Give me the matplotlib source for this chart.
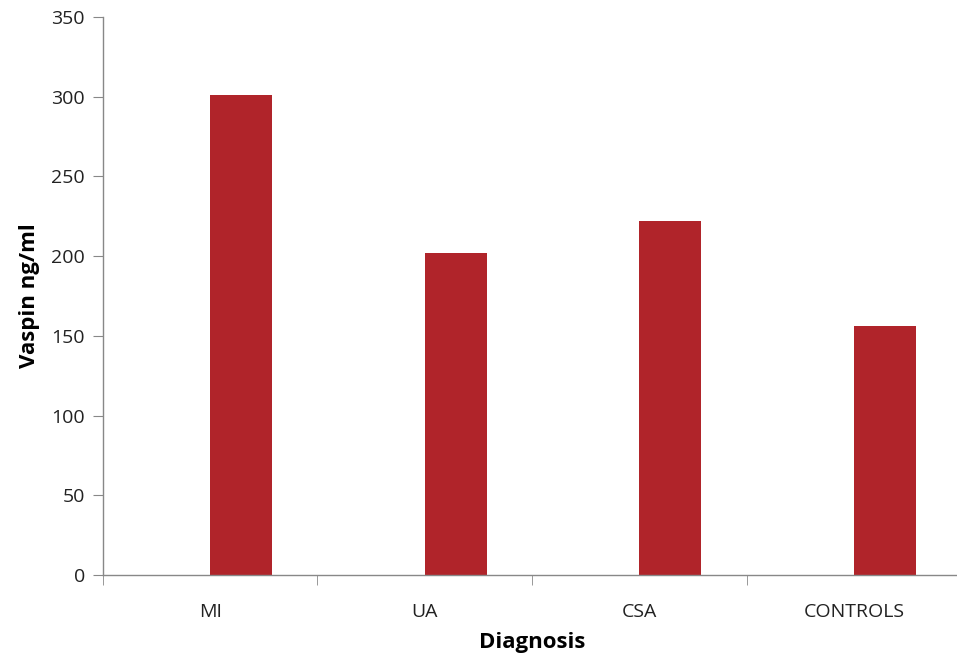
import numpy as np
import matplotlib.pyplot as plt

categories = ["MI", "UA", "CSA", "CONTROLS"]
vaspin = [301, 202, 222, 156]

plt.rcParams['font.family'] = ['Open Sans', 'DejaVu Sans']

fig = plt.figure(figsize=(9.57, 6.55), dpi=100)
ax = fig.add_axes([0.1076, 0.1221, 0.8966, 0.8519])

x = np.arange(len(categories))
# bars sit just right of the category centre (empty first series in the original)
ax.bar(x, vaspin, width=0.29, align='edge', color='#B0242A')

ax.set_xlim(-0.5, len(categories) - 0.5)
ax.set_ylim(0, 350)
ax.set_yticks(np.arange(0, 351, 50))
ax.set_xticks(x)
ax.set_xticklabels(categories)
ax.set_xticks(np.arange(-0.5, len(categories)), minor=True)

ax.tick_params(axis='x', which='major', length=0, pad=20, labelsize=14, labelcolor='#222222')
ax.tick_params(axis='x', which='minor', length=7, color='#888888', direction='out')
ax.tick_params(axis='y', length=7, color='#888888', labelsize=14, labelcolor='#222222', pad=6)

for side in ['top', 'right']:
    ax.spines[side].set_visible(False)
for side in ['left', 'bottom']:
    ax.spines[side].set_color('#888888')
    ax.spines[side].set_linewidth(1.0)

ax.set_ylabel("Vaspin ng/ml", fontsize=16, fontweight='bold', labelpad=8)
ax.set_xlabel("Diagnosis", fontsize=16, fontweight='bold', labelpad=8)

fig.savefig("out.png", dpi=100)
